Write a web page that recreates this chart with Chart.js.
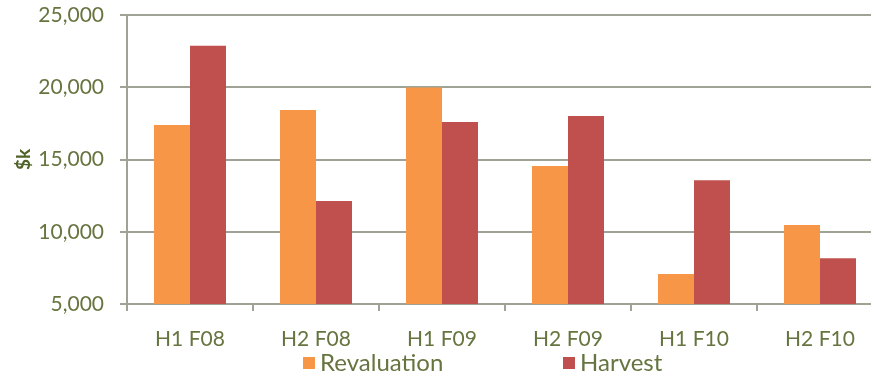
<!DOCTYPE html>
<html>
<head>
<meta charset="utf-8">
<script src="https://cdn.jsdelivr.net/npm/chart.js@4/dist/chart.umd.min.js"></script>
<style>
    html, body { margin: 0; padding: 0; background: #fff; overflow: hidden; }
    #wrap { width: 884px; height: 376px; }
</style>
</head>
<body>
<div id="wrap"><canvas id="valueChart" width="884" height="376"></canvas></div>
<script>
const periods = ['H1 F08', 'H2 F08', 'H1 F09', 'H2 F09', 'H1 F10', 'H2 F10'];
const revaluation = [17380, 18420, 19980, 14550, 7070, 10460];
const harvest = [22880, 12120, 17590, 18010, 13570, 8170];
const yTicks = [5000, 10000, 15000, 20000, 25000];

const textColor = '#667540';
const lineColor = '#9fa396';
const fontFamily = 'Lato, "Open Sans", sans-serif';

// legend drawn under the axis labels, items spread out like an office chart
const wideLegend = {
    id: 'wideLegend',
    afterDraw(chart) {
        const ctx = chart.ctx;
        const startX = 303;
        const step = 260;
        const y = 363;
        ctx.save();
        ctx.font = '24px ' + fontFamily;
        ctx.textBaseline = 'middle';
        ctx.textAlign = 'left';
        chart.data.datasets.forEach((ds, i) => {
            const x = startX + i * step;
            ctx.fillStyle = ds.backgroundColor;
            ctx.fillRect(x, y - 6, 12, 12);
            ctx.fillStyle = textColor;
            ctx.fillText(ds.label, x + 17, y);
        });
        ctx.restore();
    }
};

const ctx = document.getElementById('valueChart').getContext('2d');
new Chart(ctx, {
    type: 'bar',
    data: {
        labels: periods,
        datasets: [{
            label: 'Revaluation',
            data: revaluation,
            backgroundColor: '#f79646',
            categoryPercentage: 0.5714,
            barPercentage: 1.0
        }, {
            label: 'Harvest',
            data: harvest,
            backgroundColor: '#c0504d',
            categoryPercentage: 0.5714,
            barPercentage: 1.0
        }]
    },
    options: {
        responsive: false,
        animation: false,
        layout: { padding: { top: 15, right: 1, bottom: 0, left: 0 } },
        plugins: {
            legend: { display: false },
            tooltip: { enabled: false }
        },
        scales: {
            x: {
                grid: {
                    display: true,
                    offset: true,
                    drawOnChartArea: false,
                    drawTicks: true,
                    tickLength: 7,
                    color: lineColor,
                    lineWidth: 2
                },
                border: { display: true, color: lineColor, width: 2 },
                ticks: {
                    color: textColor,
                    font: { family: fontFamily, size: 21 },
                    padding: 16,
                    maxRotation: 0
                },
                afterFit: scale => {
                    scale.height = 72;
                    scale.paddingLeft = 0;
                    scale.paddingRight = 0;
                }
            },
            y: {
                min: 5000,
                max: 25000,
                afterBuildTicks: scale => {
                    scale.ticks = yTicks.map(v => ({ value: v }));
                },
                grid: {
                    color: lineColor,
                    lineWidth: 2,
                    drawTicks: true,
                    tickLength: 7
                },
                border: { display: true, color: lineColor, width: 2 },
                ticks: {
                    color: textColor,
                    font: { family: fontFamily, size: 21 },
                    padding: 16,
                    callback: v => v.toLocaleString('en-US')
                },
                title: {
                    display: true,
                    text: '$k',
                    color: '#4f6228',
                    font: { family: fontFamily, size: 19, weight: 'bold' },
                    padding: { top: 12, bottom: 0 }
                },
                afterFit: scale => {
                    scale.width = 127;
                    scale.paddingTop = 0;
                    scale.paddingBottom = 0;
                }
            }
        }
    },
    plugins: [wideLegend]
});
</script>
</body>
</html>
